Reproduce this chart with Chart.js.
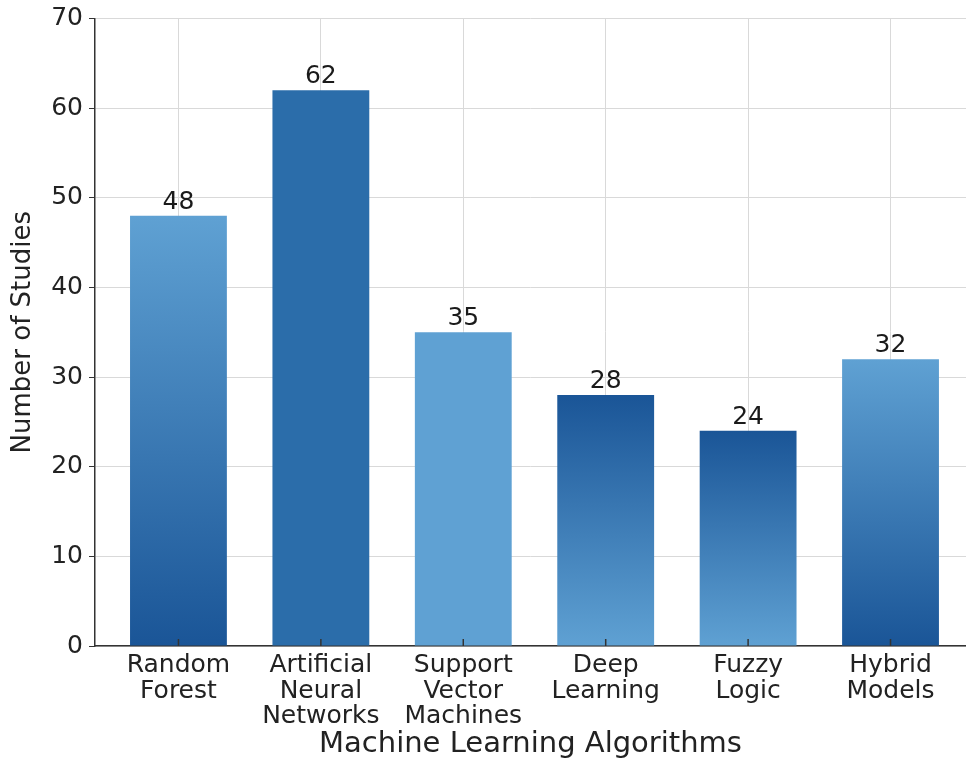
<!DOCTYPE html>
<html lang="en">
<head>
    <meta charset="UTF-8">
    <title>Machine Learning Algorithms</title>
    <style>
        html, body {
            margin: 0;
            padding: 0;
            background: #ffffff;
            overflow: hidden;
        }
        #wrap {
            width: 966px;
            height: 764px;
        }
    </style>
</head>
<body>
    <div id="wrap"><canvas id="myChart" width="966" height="764"></canvas></div>

    <script src="https://cdn.jsdelivr.net/npm/chart.js"></script>
    <script>
        const categories = [
            ['Random', 'Forest'],
            ['Artificial', 'Neural', 'Networks'],
            ['Support', 'Vector', 'Machines'],
            ['Deep', 'Learning'],
            ['Fuzzy', 'Logic'],
            ['Hybrid', 'Models']
        ];
        const studies = [48, 62, 35, 28, 24, 32];
        const yTicks = [0, 10, 20, 30, 40, 50, 60, 70];

        // colour of each bar: [top, bottom]
        const LIGHT = '#5fa1d3';
        const DARK = '#1a5597';
        const MID = '#2b6daa';
        const barColors = [
            [LIGHT, DARK],
            [MID, MID],
            [LIGHT, LIGHT],
            [DARK, LIGHT],
            [DARK, LIGHT],
            [LIGHT, DARK]
        ];

        Chart.defaults.font.family = "'DejaVu Sans', sans-serif";
        Chart.defaults.font.size = 25;
        Chart.defaults.color = '#222';

        function barFill(context) {
            const chart = context.chart;
            const i = context.dataIndex;
            const c = barColors[i];
            if (!chart.chartArea || !chart.scales.y) return c[0];
            const y = chart.scales.y;
            const top = y.getPixelForValue(studies[i]);
            const bottom = y.getPixelForValue(0);
            const g = chart.ctx.createLinearGradient(0, top, 0, bottom);
            g.addColorStop(0, c[0]);
            g.addColorStop(1, c[1]);
            return g;
        }

        // value above every bar
        const valueLabels = {
            id: 'valueLabels',
            afterDatasetsDraw(chart) {
                const ctx = chart.ctx;
                const meta = chart.getDatasetMeta(0);
                ctx.save();
                ctx.font = "25px 'DejaVu Sans', sans-serif";
                ctx.fillStyle = '#1a1a1a';
                ctx.textAlign = 'center';
                ctx.textBaseline = 'bottom';
                meta.data.forEach((bar, i) => {
                    ctx.fillText(String(studies[i]), bar.x, bar.y - 1);
                });
                ctx.restore();
            }
        };

        // small inward ticks on the x axis
        const innerTicks = {
            id: 'innerTicks',
            afterDatasetsDraw(chart) {
                const ctx = chart.ctx;
                const x = chart.scales.x;
                const base = chart.chartArea.bottom;
                ctx.save();
                ctx.strokeStyle = '#333';
                ctx.lineWidth = 1.5;
                categories.forEach((c, i) => {
                    const px = x.getPixelForValue(i);
                    ctx.beginPath();
                    ctx.moveTo(px, base);
                    ctx.lineTo(px, base - 7);
                    ctx.stroke();
                });
                ctx.restore();
            }
        };

        const ctx = document.getElementById('myChart').getContext('2d');
        new Chart(ctx, {
            type: 'bar',
            data: {
                datasets: [{
                    label: 'Number of Studies',
                    data: categories.map((c, i) => ({ x: i, y: studies[i] })),
                    backgroundColor: barFill,
                    borderWidth: 0,
                    barPercentage: 0.85,
                    categoryPercentage: 0.8
                }]
            },
            options: {
                responsive: false,
                animation: false,
                layout: {
                    padding: { top: 18, right: 0, bottom: 0, left: 0 }
                },
                plugins: {
                    legend: { display: false },
                    tooltip: { enabled: false }
                },
                scales: {
                    x: {
                        type: 'linear',
                        min: -0.586,
                        max: 5.53,
                        offset: false,
                        afterFit(scale) { scale.height = 118; },
                        grid: {
                            offset: false,
                            color: '#d9d9d9',
                            lineWidth: 1,
                            drawTicks: false
                        },
                        border: { color: '#333', width: 1.5 },
                        ticks: {
                            stepSize: 1,
                            includeBounds: false,
                            autoSkip: false,
                            maxRotation: 0,
                            padding: 7,
                            color: '#222',
                            font: { size: 25, lineHeight: 1.02 },
                            callback: (v) => categories[v] || ''
                        },
                        title: {
                            display: true,
                            text: 'Machine Learning Algorithms',
                            color: '#222',
                            font: { size: 29, lineHeight: 1.05 },
                            padding: { top: 4, bottom: 4 }
                        }
                    },
                    y: {
                        min: 0,
                        max: 70,
                        afterFit(scale) { scale.width = 95; },
                        afterBuildTicks(scale) {
                            scale.ticks = yTicks.map(v => ({ value: v }));
                        },
                        grid: {
                            color: '#d9d9d9',
                            lineWidth: 1,
                            tickLength: 6,
                            tickColor: '#333'
                        },
                        border: { color: '#333', width: 1.5 },
                        ticks: {
                            padding: 6,
                            color: '#222',
                            font: { size: 25, lineHeight: 1.0 }
                        },
                        title: {
                            display: true,
                            text: 'Number of Studies',
                            color: '#222',
                            font: { size: 26, lineHeight: 1.1 },
                            padding: { top: 9, bottom: 9 }
                        }
                    }
                }
            },
            plugins: [valueLabels, innerTicks]
        });
    </script>
</body>
</html>
